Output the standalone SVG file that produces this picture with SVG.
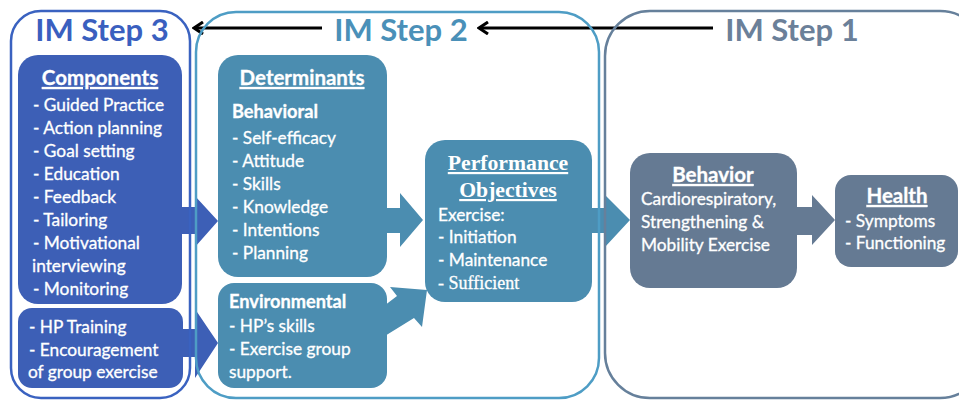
<svg xmlns="http://www.w3.org/2000/svg" width="959" height="403" viewBox="0 0 959 403">
<defs>
<style>
.t{font-family:Lato,"Open Sans","Liberation Sans",sans-serif;font-size:17.3px;fill:#ffffff;stroke:#ffffff;stroke-width:0.3px}
.b{font-weight:bold}
.h{font-size:20.5px}
.s{font-size:18.2px}
.u{text-decoration:underline}
.c{text-anchor:middle}
.ttl{font-family:Lato,"Open Sans","Liberation Sans",sans-serif;font-size:31px;font-weight:bold;text-anchor:middle}
.ser{font-family:"Liberation Serif","Times New Roman",serif;font-weight:bold;font-size:21.7px;fill:#ffffff;text-anchor:middle;text-decoration:underline}
.blue{fill:#3d5fb6}
.teal{fill:#4b8db0}
.gray{fill:#657a93}
</style>
<marker id="ah" viewBox="0 0 12 14" refX="10" refY="7" markerWidth="12" markerHeight="14" markerUnits="userSpaceOnUse" orient="auto">
<path d="M1,1 L10,7 L1,13" fill="none" stroke="#000" stroke-width="3"/>
</marker>
</defs>
<rect width="959" height="403" fill="#ffffff"/>

<g id="connectors">
<path class="blue" d="M178,207 H195 V196 L218,221 L195,247 V234 H178 Z"/>
<path class="blue" d="M178,329 H195 V309 L218,343 L195,378 V357 H178 Z"/>
<path class="teal" d="M383,208 H400 V193 L423,220 L400,247 V233 H383 Z"/>
<path class="teal" d="M380,309 L397,296 L390,287 L427,290 L422,327 L414,318 L380,339 Z"/>
<path class="teal" d="M588,208 H605 V195 L630,220 L605,247 V233 H588 Z"/>
<path class="gray" d="M794,207 H812 V195 L835,220 L812,245 V235 H794 Z"/>
<line x1="322" y1="28" x2="194" y2="28" stroke="#000" stroke-width="3" marker-end="url(#ah)"/>
<line x1="713" y1="28" x2="479" y2="28" stroke="#000" stroke-width="3" marker-end="url(#ah)"/>
</g>

<g id="step3">
<rect x="11" y="11" width="179" height="387" rx="30" fill="none" stroke="#3a62c0" stroke-width="2.5"/>
<text class="ttl" x="102" y="41" fill="#3a5fbf">IM Step 3</text>
</g>
<g id="step2">
<rect x="196" y="12" width="403" height="386" rx="40" fill="none" stroke="#4e9dc5" stroke-width="2.5"/>
<text class="ttl" x="401" y="41" fill="#4a90b8">IM Step 2</text>
</g>
<g id="step1">
<rect x="605" y="11" width="380" height="387" rx="45" fill="none" stroke="#66809b" stroke-width="2.5"/>
<text class="ttl" x="792" y="41" fill="#6b8099">IM Step 1</text>
</g>

<g id="components">
<rect class="blue" x="18" y="55" width="164" height="249" rx="20"/>
<text class="t b u c h" x="100" y="85">Components</text>
<text class="t" x="33" y="111">- Guided Practice</text>
<text class="t" x="33" y="134">- Action planning</text>
<text class="t" x="33" y="157">- Goal setting</text>
<text class="t" x="33" y="180">- Education</text>
<text class="t" x="33" y="203">- Feedback</text>
<text class="t" x="33" y="226">- Tailoring</text>
<text class="t" x="33" y="249">- Motivational</text>
<text class="t" x="32" y="272">interviewing</text>
<text class="t" x="33" y="295">- Monitoring</text>
</g>

<g id="hp-training">
<rect class="blue" x="18" y="308" width="165" height="80" rx="14"/>
<text class="t" x="29" y="333">- HP Training</text>
<text class="t" x="29" y="356">- Encouragement</text>
<text class="t" x="28" y="378">of group exercise</text>
</g>

<g id="determinants">
<rect class="teal" x="218" y="55" width="169" height="222" rx="20"/>
<text class="t b u c h" x="302" y="85">Determinants</text>
<text class="t b s" x="232" y="118">Behavioral</text>
<text class="t" x="232" y="144">- Self-efficacy</text>
<text class="t" x="232" y="167">- Attitude</text>
<text class="t" x="232" y="190">- Skills</text>
<text class="t" x="232" y="213">- Knowledge</text>
<text class="t" x="232" y="236">- Intentions</text>
<text class="t" x="232" y="259">- Planning</text>
</g>

<g id="environmental">
<rect class="teal" x="218" y="283" width="169" height="105" rx="16"/>
<text class="t b s" x="229" y="308">Environmental</text>
<text class="t" x="229" y="332">- HP’s skills</text>
<text class="t" x="229" y="355">- Exercise group</text>
<text class="t" x="229" y="378">support.</text>
</g>

<g id="performance-objectives">
<rect class="teal" x="425" y="140" width="167" height="162" rx="20"/>
<text class="ser" x="508" y="170">Performance</text>
<text class="ser" x="508" y="197">Objectives</text>
<text class="t" x="438" y="221">Exercise:</text>
<text class="t" x="438" y="243">- Initiation</text>
<text class="t" x="438" y="266">- Maintenance</text>
<text x="438" y="289" font-family="'Liberation Serif',serif" font-size="18" fill="#ffffff" stroke="#ffffff" stroke-width="0.3">- Sufficient</text>
</g>

<g id="behavior">
<rect class="gray" x="630" y="153" width="167" height="135" rx="20"/>
<text class="t b u c h" x="713" y="182">Behavior</text>
<text class="t" x="641" y="205">Cardiorespiratory,</text>
<text class="t" x="641" y="228">Strengthening &amp;</text>
<text class="t" x="641" y="251">Mobility Exercise</text>
</g>

<g id="health">
<rect class="gray" x="835" y="175" width="123" height="92" rx="16"/>
<text class="t b u c h" x="897" y="203">Health</text>
<text class="t" x="845" y="227">- Symptoms</text>
<text class="t" x="845" y="249">- Functioning</text>
</g>
</svg>
